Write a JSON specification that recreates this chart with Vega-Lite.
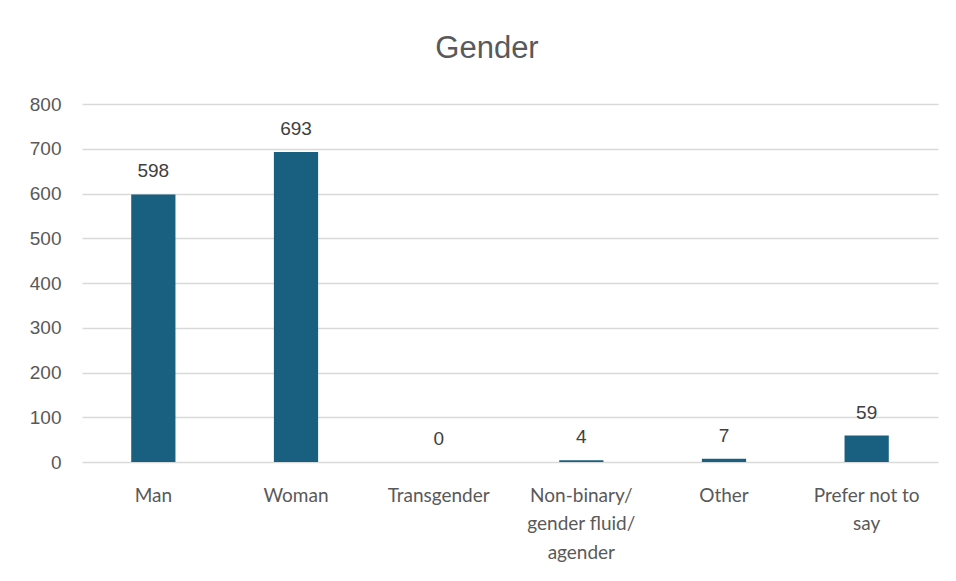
{
  "$schema": "https://vega.github.io/schema/vega-lite/v6.json",
  "autosize": {"type": "none"},
  "width": 856,
  "height": 358,
  "padding": {"left": 82, "top": 104, "right": 18, "bottom": 119},
  "background": "white",
  "title": {
    "text": "Gender",
    "anchor": "middle",
    "frame": "group",
    "dx": -23,
    "offset": 6,
    "baseline": "alphabetic",
    "font": "Liberation Sans",
    "fontSize": 31,
    "fontWeight": "normal",
    "color": "#595959"
  },
  "data": {
    "values": [
      {"gender": "Man", "count": 598},
      {"gender": "Woman", "count": 693},
      {"gender": "Transgender", "count": 0},
      {"gender": "Non-binary/gender fluid/agender", "count": 4},
      {"gender": "Other", "count": 7},
      {"gender": "Prefer not to say", "count": 59}
    ]
  },
  "encoding": {
    "x": {
      "field": "gender",
      "type": "nominal",
      "sort": null,
      "scale": {"paddingInner": 0.69, "paddingOuter": 0.345},
      "axis": {
        "title": null,
        "domain": false,
        "ticks": false,
        "labelAngle": 0,
        "labelPadding": 24,
        "labelFont": "Lato",
        "labelFontSize": 19,
        "labelColor": "#595959",
        "labelLineHeight": 28.5,
        "labelBaseline": "top",
        "labelExpr": "datum.value == 'Non-binary/gender fluid/agender' ? ['Non-binary/', 'gender fluid/', 'agender'] : datum.value == 'Prefer not to say' ? ['Prefer not to', 'say'] : datum.value"
      }
    },
    "y": {
      "field": "count",
      "type": "quantitative",
      "scale": {"domain": [0, 800], "nice": false},
      "axis": {
        "title": null,
        "values": [0, 100, 200, 300, 400, 500, 600, 700, 800],
        "domain": false,
        "ticks": false,
        "grid": true,
        "gridColor": "#d9d9d9",
        "gridWidth": 1.6,
        "labelPadding": 21,
        "labelFont": "Liberation Sans",
        "labelFontSize": 19,
        "labelColor": "#595959"
      }
    }
  },
  "layer": [
    {
      "mark": {"type": "bar", "color": "#185f80"}
    },
    {
      "mark": {
        "type": "text",
        "baseline": "alphabetic",
        "dy": -17,
        "font": "Liberation Sans",
        "fontSize": 19,
        "color": "#404040"
      },
      "encoding": {
        "text": {"field": "count", "type": "quantitative"}
      }
    }
  ],
  "config": {
    "view": {"stroke": null}
  }
}
